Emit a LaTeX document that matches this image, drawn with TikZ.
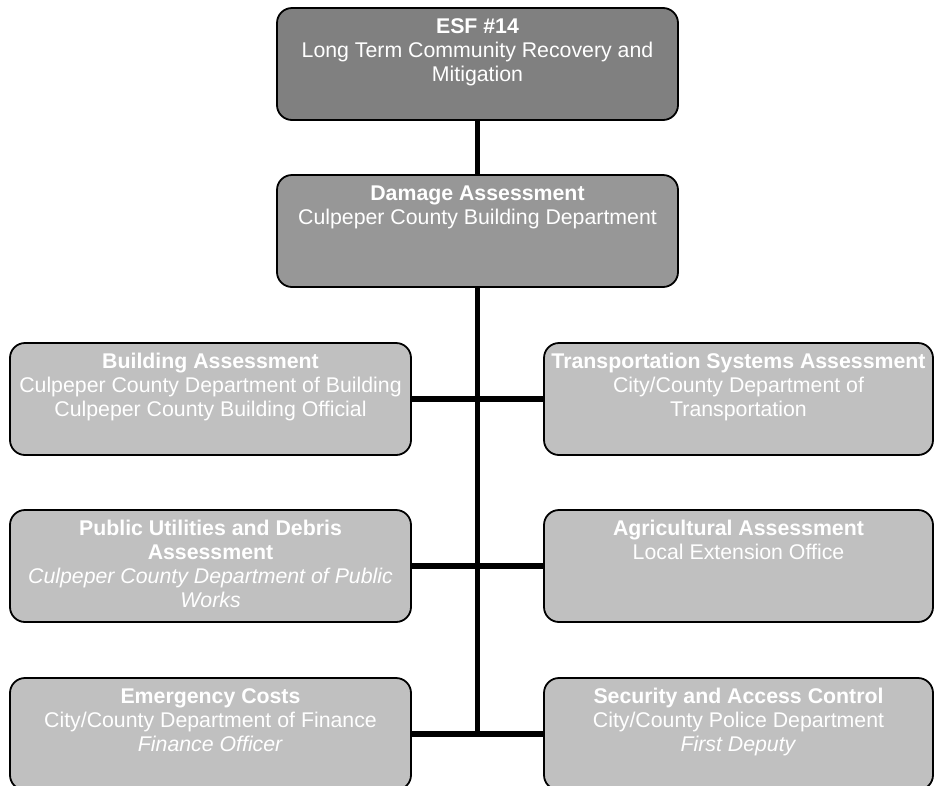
\documentclass[tikz,border=0pt]{standalone}
\usepackage{fontspec}
\setmainfont{Liberation Sans}
\definecolor{topgray}{HTML}{808080}
\definecolor{midgray}{HTML}{979797}
\definecolor{lightgray}{HTML}{C0C0C0}
\begin{document}
\begin{tikzpicture}[x=1pt,y=-1pt]
\tikzset{
  box/.style={draw=black, line width=1.8pt, rounded corners=15pt, inner sep=0pt, minimum height=112pt},
  widebox/.style={box, minimum width=401pt},
  rbox/.style={box, minimum width=389pt},
  txt/.style={text=white, align=center, inner sep=0pt, anchor=north, font=\fontsize{21.3}{24}\selectfont},
  link/.style={draw=black, line width=5.5pt}
}
\useasboundingbox (0,0) rectangle (934,785);
% boxes
\node[widebox, fill=topgray] (b0) at (477.5,64) {};
\node[widebox, fill=midgray] (b1) at (477.5,231) {};
\node[widebox, fill=lightgray] (l1) at (210.5,399) {};
\node[widebox, fill=lightgray] (l2) at (210.5,566) {};
\node[widebox, fill=lightgray] (l3) at (210.5,734) {};
\node[rbox, fill=lightgray] (r1) at (738.5,399) {};
\node[rbox, fill=lightgray] (r2) at (738.5,566) {};
\node[rbox, fill=lightgray] (r3) at (738.5,734) {};
% connectors
\coordinate (bend) at (b1.south |- l3.east);
\draw[link] (b0.south) -- (b1.north);
\draw[link] (b1.south) -- (bend);
\draw[link] (l1.east) -- (r1.west);
\draw[link] (l2.east) -- (r2.west);
\draw[link] (l3.east) -- (r3.west);
% texts
\node[txt] (t0) at ([yshift=-9.2pt]b0.north) {\strut\textbf{ESF \#14}\\Long Term Community Recovery and\\Mitigation};
\node[txt] (t1) at ([yshift=-9.2pt]b1.north) {\strut\textbf{Damage Assessment}\\Culpeper County Building Department};
\node[txt] (tl1) at ([yshift=-9.2pt]l1.north) {\strut\textbf{Building Assessment}\\Culpeper County Department of Building\\Culpeper County Building Official};
\node[txt] (tl2) at ([yshift=-9.2pt]l2.north) {\strut\textbf{Public Utilities and Debris}\\\textbf{Assessment}\\\textit{Culpeper County Department of Public}\\\textit{Works}};
\node[txt] (tl3) at ([yshift=-9.2pt]l3.north) {\strut\textbf{Emergency Costs}\\City/County Department of Finance\\\textit{Finance Officer}};
\node[txt] (tr1) at ([yshift=-9.2pt]r1.north) {\strut\textbf{Transportation Systems Assessment}\\City/County Department of\\Transportation};
\node[txt] (tr2) at ([yshift=-9.2pt]r2.north) {\strut\textbf{Agricultural Assessment}\\Local Extension Office};
\node[txt] (tr3) at ([yshift=-9.2pt]r3.north) {\strut\textbf{Security and Access Control}\\City/County Police Department\\\textit{First Deputy}};
\end{tikzpicture}
\end{document}
